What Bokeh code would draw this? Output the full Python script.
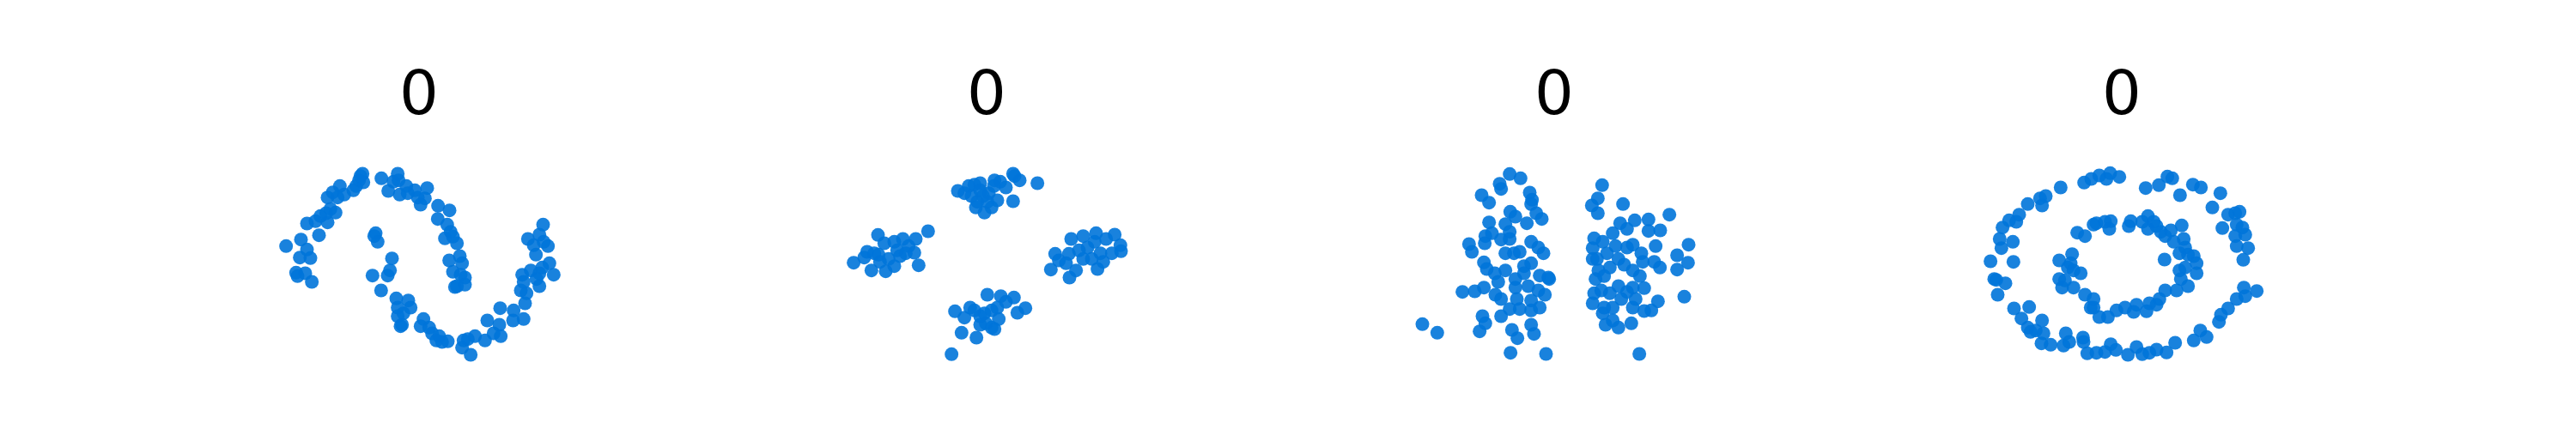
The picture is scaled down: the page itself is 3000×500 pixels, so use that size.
from bokeh.plotting import figure
from bokeh.layouts import row
from bokeh.models import Range1d, Spacer
from bokeh.embed import file_html
from bokeh.resources import INLINE

# Panel titles
titles = ["0", "0", "0", "0"]

# Panel 1: two interleaving moons
moons_x = [155, 207, 228, 203, 240, 190, 195, 222, 245, 270, 228, 258, 275, 300, 295, 310, 328, 300, 318, 343,
           335, 358, 390, 400, 410, 422, 425, 415, 488, 512, 530, 545, 548, 552, 575, 580, 605, 625, 640, 648,
           615, 686, 726, 685, 718, 730, 710, 738, 752, 725, 762, 770, 738, 765, 780, 780, 745, 752, 468, 475,
           463, 525, 518, 510, 457, 487, 540, 582, 590, 545, 545, 560, 555, 565, 635, 625, 655, 665, 690, 700,
           720, 680, 775, 770, 800, 790, 815, 850, 858, 880, 900, 905, 903, 950, 948, 985, 990, 995, 975, 985,
           980, 1010, 1040, 1040, 1050, 1075, 1090, 1030, 1000, 1020, 1028, 1040, 1053, 1070, 1055]
moons_y = [715, 692, 727, 755, 757, 808, 820, 810, 840, 677, 636, 628, 610, 632, 600, 585, 598, 545, 527, 505,
           545, 535, 520, 505, 485, 462, 492, 470, 478, 522, 490, 462, 485, 535, 505, 530, 520, 570, 548, 512,
           545, 574, 590, 620, 640, 665, 688, 682, 705, 765, 750, 775, 805, 815, 825, 850, 858, 855, 670, 700,
           680, 758, 800, 818, 818, 870, 898, 905, 930, 930, 960, 990, 995, 950, 970, 995, 1000, 1020, 1030, 1050,
           1048, 1045, 1045, 1070, 1095, 1040, 1030, 1045, 975, 1020, 990, 1030, 932, 940, 975, 970, 915, 880, 870, 840,
           815, 800, 810, 855, 790, 775, 815, 830, 690, 712, 745, 675, 640, 715, 700]

# Panel 2: four blobs
blobs_x = [522, 560, 580, 600, 545, 570, 590, 610, 630, 650, 670, 690, 715, 738, 720, 800, 715, 660, 640, 615,
           585, 600, 625, 648,
           158, 195, 205, 243, 245, 220, 270, 265, 300, 310, 330, 350, 375, 370, 385, 418, 300, 280, 250, 230,
           320, 340,
           847, 862, 875, 912, 918, 910, 935, 960, 975, 1000, 1005, 1010, 1040, 1070, 1090, 1092, 1060, 1020, 960, 990,
           945, 1030, 900,
           500, 512, 535, 587, 545, 565, 580, 600, 615, 625, 640, 650, 665, 672, 690, 718, 730, 758, 640, 620,
           600, 660]
blobs_y = [522, 505, 500, 495, 530, 540, 560, 540, 530, 485, 490, 510, 462, 485, 470, 495, 558, 555, 580, 598,
           580, 520, 560, 505,
           773, 755, 735, 676, 745, 800, 803, 705, 700, 730, 690, 715, 690, 738, 782, 663, 785, 760, 770, 740,
           750, 740,
           797, 742, 765, 825, 690, 742, 800, 680, 720, 700, 670, 795, 690, 675, 712, 733, 740, 740, 760, 760,
           730, 770, 775,
           1093, 943, 1018, 1035, 965, 930, 940, 990, 950, 885, 940, 1005, 970, 890, 910, 895, 948, 932, 1000, 985,
           960, 930]

# Panel 3: two noisy vertical groups
groups_x = [165, 217, 305, 348, 328, 338, 372, 398, 398, 385, 383, 408, 380, 390, 375, 385, 365, 435, 440, 470,
            508, 540, 548, 545, 563, 582, 472, 490, 455, 530, 470, 440, 470, 455, 485, 505, 545, 570, 588, 520,
            545, 455, 418, 430, 490, 520, 575, 605, 608, 380, 420, 440, 490, 535, 570, 593, 495, 545, 575, 505,
            470, 440, 545, 478, 497, 545, 555, 473, 597,
            793, 778, 757, 778, 866, 856, 880, 907, 955, 955, 996, 1028, 980, 1095, 1055, 1093, 1055, 1080, 975, 995,
            930, 935, 925, 940, 988, 965, 940, 895, 923, 850, 805, 830, 795, 760, 765, 770, 760, 760, 765, 795,
            810, 830, 840, 850, 880, 900, 870, 900, 820, 800, 790, 820, 850, 860, 880, 900, 910, 900, 830, 800,
            780, 775]
groups_y = [988, 1018, 875, 873, 708, 735, 537, 563, 632, 680, 705, 670, 772, 795, 960, 985, 1013, 497, 515, 463,
            478, 528, 553, 568, 600, 620, 595, 612, 638, 635, 665, 692, 690, 740, 740, 735, 700, 720, 740, 785,
            775, 800, 810, 840, 830, 810, 818, 825, 830, 860, 885, 900, 860, 855, 870, 885, 900, 905, 930, 935,
            935, 960, 940, 1008, 1037, 990, 1022, 1088, 1092,
            502, 548, 573, 600, 568, 635, 655, 625, 622, 662, 660, 605, 715, 710, 747, 773, 797, 892, 770, 790,
            740, 770, 820, 862, 908, 940, 942, 985, 1092, 1000, 990, 975, 950, 915, 880, 830, 760, 722, 688, 700,
            740, 670, 715, 760, 720, 710, 780, 800, 790, 820, 870, 880, 855, 900, 875, 860, 900, 930, 930, 930,
            800, 760]

# Panel 4: two concentric circles
circles_x = [110, 135, 123, 162, 130, 148, 142, 152, 175, 200, 210, 188, 190, 240, 283, 290, 303, 355, 437, 462,
             490, 515, 528, 560, 652, 698, 728, 745, 772, 817, 845, 885, 913, 940, 965, 980, 970, 920, 990, 965,
             1000, 970, 1010, 993, 995, 1040, 970, 1000, 940, 915, 908, 843, 865, 820, 755, 725, 690, 665, 640, 620,
             590, 548, 530, 510, 480, 448, 435, 433, 385, 373, 365, 320, 288, 295, 268, 290, 240, 250, 245, 218,
             192,
             413, 440, 470, 480, 510, 530, 525, 593, 600, 640, 660, 680, 660, 690, 705, 720, 740, 750, 778, 785,
             790, 770, 800, 820, 830, 830, 790, 770, 718, 800, 775, 760, 720, 700, 690, 665, 655, 620, 610, 580,
             550, 520, 490, 470, 470, 440, 460, 395, 350, 380, 425, 350, 360, 400, 370, 390, 400]
circles_y = [768, 885, 830, 845, 833, 722, 690, 650, 625, 630, 605, 700, 770, 568, 548, 573, 540, 510, 493, 480,
             468, 480, 460, 473, 512, 502, 472, 478, 537, 500, 510, 580, 530, 605, 600, 595, 640, 652, 650, 680,
             675, 715, 722, 763, 860, 872, 900, 890, 933, 955, 980, 1010, 1033, 1045, 1053, 1087, 1077, 1088, 1093, 1068,
             1095, 1078, 1058, 1085, 1088, 1090, 1050, 1035, 1050, 1020, 1063, 1060, 1055, 1020, 1010, 975, 1000, 1015, 928, 968,
             933,
             668, 680, 640, 635, 630, 628, 655, 645, 628, 630, 610, 630, 655, 645, 665, 680, 660, 700, 643, 690,
             720, 740, 745, 750, 775, 810, 790, 800, 762, 855, 830, 870, 870, 900, 920, 915, 943, 920, 945, 930,
             940, 963, 963, 930, 900, 885, 930, 743, 765, 790, 810, 830, 860, 860, 835, 775, 800]

datasets = [(moons_x, moons_y), (blobs_x, blobs_y), (groups_x, groups_y), (circles_x, circles_y)]
x_starts = [-372, -369, -366, -423]

PANEL_W = 661
FIG_H = 484
TOP_BORDER = 140
Y_TOP = 276
Y_BOTTOM = 1308

figs = []
for i, (xs, ys) in enumerate(datasets):
    p = figure(width=PANEL_W, height=FIG_H, output_backend="svg", toolbar_location=None,
               title=titles[i],
               x_range=Range1d(x_starts[i], x_starts[i] + 3 * PANEL_W),
               y_range=Range1d(Y_BOTTOM, Y_TOP),
               min_border=0, min_border_top=TOP_BORDER)
    p.title.align = "center"
    p.title.text_font = "DejaVu Sans"
    p.title.text_font_size = "72px"
    p.title.text_font_style = "normal"
    p.title.text_color = "black"
    p.title.standoff = 16
    p.axis.visible = False
    p.grid.visible = False
    p.outline_line_color = None
    p.scatter(xs, ys, size=16, fill_color="#0074d9", fill_alpha=0.9, line_color=None)
    figs.append(p)

layout = row(Spacer(width=157, height=FIG_H), *figs)
open("out.html", "w").write(file_html(layout, INLINE))
